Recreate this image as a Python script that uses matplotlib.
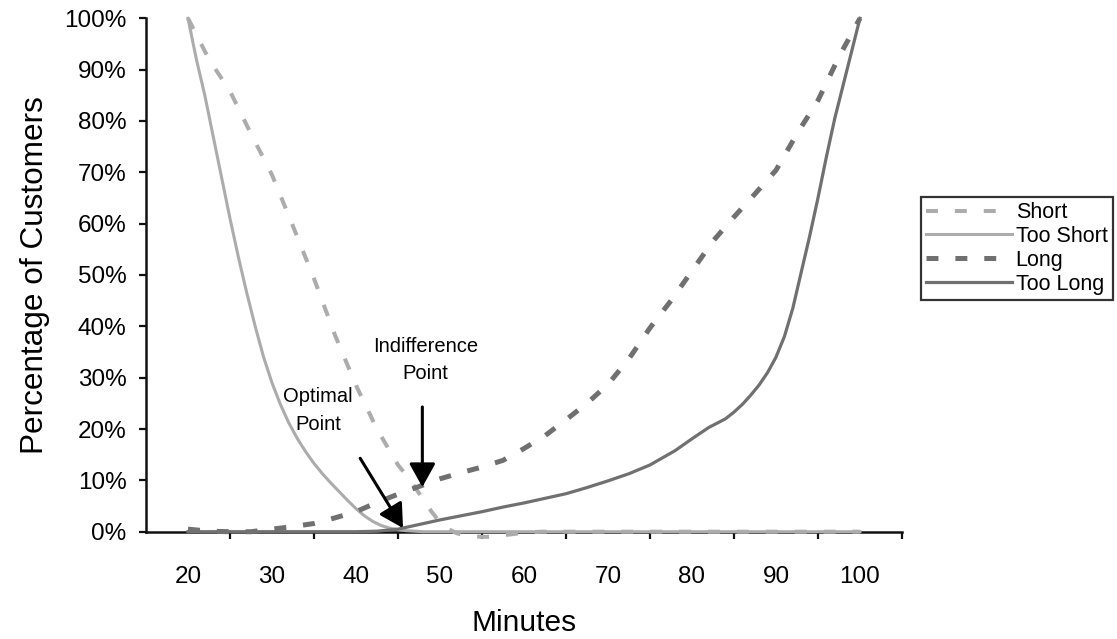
import matplotlib
matplotlib.use("Agg")
import matplotlib.pyplot as plt
from matplotlib.ticker import PercentFormatter, FixedLocator
from matplotlib.patches import ArrowStyle

plt.rcParams['font.family'] = ['Liberation Sans', 'DejaVu Sans']
plt.rcParams['lines.scale_dashes'] = False

# ---- data ----
minutes_short = [20, 22.5, 25, 27.5, 30, 32.5, 35, 37.5, 40, 42.5, 45, 46, 47, 48, 49,
                 50, 51, 52, 53, 54, 55, 56, 57, 58, 59, 60, 62, 65, 70, 75, 80, 85,
                 90, 95, 100]
short = [100, 92, 85.8, 77.5, 69.5, 59.5, 49.3, 38.3, 28.5, 20, 13, 11, 8.7, 6.3, 3.9,
         1.8, 0.5, -0.3, -0.7, -0.9, -1, -1, -0.8, -0.6, -0.4, -0.2, 0, 0, 0, 0, 0, 0,
         0, 0, 0]

minutes_too_short = [20, 21, 22, 23, 24, 25, 26, 27, 28, 29, 30, 31, 32, 33, 34, 35, 36,
                     37, 38, 39, 40, 41, 42, 43, 44, 45, 46, 47, 48, 50, 55, 60, 65, 70,
                     75, 80, 85, 90, 95, 100]
too_short = [100, 92, 85, 77, 69, 61, 53.5, 46.5, 40, 34, 29, 24.8, 21.2, 18.2, 15.6,
             13.3, 11.3, 9.5, 7.8, 6.1, 4.5, 3.1, 2.0, 1.2, 0.7, 0.4, 0.2, 0.1, 0, 0, 0,
             0, 0, 0, 0, 0, 0, 0, 0, 0]

minutes_long = [20, 22.5, 25, 27.5, 30, 32.5, 35, 37.5, 40, 42.5, 45, 47.5, 50, 52.5,
                55, 57.5, 60, 62.5, 65, 67.5, 70, 72.5, 75, 77.5, 80, 82.5, 85, 87.5,
                90, 92.5, 95, 97.5, 100]
long_ = [0.5, 0.1, 0, 0, 0.5, 1.0, 1.6, 2.7, 3.9, 5.7, 7.3, 8.8, 10.3, 11.5,
         12.6, 13.9, 16.2, 18.7, 21.8, 25, 28.7, 33.7, 39.7, 45, 50.8, 56.6, 61.3, 65.8,
         70.4, 77.5, 84, 92.5, 100]

minutes_too_long = [20, 25, 30, 35, 40, 42.5, 45, 47.5, 50, 52.5, 55, 57.5, 60, 62.5,
                    65, 67.5, 70, 72.5, 75, 78, 80, 82, 84, 85, 86, 87, 88, 89, 90, 91,
                    92, 93, 94, 95, 96, 97, 98, 99, 100]
too_long = [0, 0, 0, 0, 0, 0.1, 0.5, 1.4, 2.3, 3.1, 3.9, 4.8, 5.6, 6.5,
            7.4, 8.6, 9.9, 11.3, 13, 15.8, 18.1, 20.3, 22, 23.3, 24.8, 26.6, 28.6, 31,
            34, 38, 43.5, 50.5, 57.5, 65, 73, 80.5, 87, 93.5, 100]

x_ticklabels = [20, 30, 40, 50, 60, 70, 80, 90, 100]
y_ticks = [0, 10, 20, 30, 40, 50, 60, 70, 80, 90, 100]

LIGHT = '#acacac'
DARK = '#707070'
DASH = (0, (8.6, 12.2))

fig = plt.figure(figsize=(11.17, 6.39), dpi=100)
ax = fig.add_axes([0.1307, 0.1679, 0.8075 - 0.1307, 0.9714 - 0.1679])

ax.plot(minutes_short, short, color=LIGHT, lw=2.9, linestyle=DASH,
        dash_capstyle='butt', label='Short', clip_on=False, zorder=3)
ax.plot(minutes_too_short, too_short, color=LIGHT, lw=2.2, label='Too Short',
        clip_on=False, zorder=3)
ax.plot(minutes_long, long_, color=DARK, lw=3.6, linestyle=DASH,
        dash_capstyle='butt', label='Long', clip_on=False, zorder=3)
ax.plot(minutes_too_long, too_long, color=DARK, lw=2.3, label='Too Long',
        clip_on=False, zorder=3)

ax.set_xlim(15, 105)
ax.set_ylim(0, 100)

for s in ['top', 'right']:
    ax.spines[s].set_visible(False)
for s in ['left', 'bottom']:
    ax.spines[s].set_linewidth(1.8)
    ax.spines[s].set_color('#111111')
    ax.spines[s].set_zorder(2)

ax.set_yticks(y_ticks)
ax.yaxis.set_major_formatter(PercentFormatter(xmax=100, decimals=0))
ax.tick_params(axis='y', direction='out', length=5, width=1.6, color='#111111',
               labelsize=17.5, pad=9)

ax.set_xticks(x_ticklabels)
ax.set_xticklabels([str(v) for v in x_ticklabels])
ax.xaxis.set_minor_locator(FixedLocator([25, 35, 45, 55, 65, 75, 85, 95, 105]))
ax.tick_params(axis='x', which='major', length=0, labelsize=17.5, pad=25)
ax.tick_params(axis='x', which='minor', direction='out', length=5, width=1.6,
               color='#111111')

ax.set_xlabel('Minutes', fontsize=21.5, labelpad=15)
ax.set_ylabel('Percentage of Customers', fontsize=22.7, labelpad=10)

ax.text(48.3, 33.4, 'Indifference\nPoint', ha='center', va='center',
        fontsize=14.5, linespacing=1.55)
ax.text(35.5, 23.6, 'Optimal\nPoint', ha='center', va='center',
        fontsize=14.5, linespacing=1.55)

astyle = ArrowStyle('-|>', head_length=0.45, head_width=0.25)
ax.annotate('', xy=(47.9, 8.7), xytext=(47.9, 24.3),
            arrowprops=dict(arrowstyle=astyle, color='black', lw=2.2,
                            mutation_scale=32, shrinkA=0, shrinkB=0), zorder=5)
ax.annotate('', xy=(45.6, 0.7), xytext=(40.5, 14.3),
            arrowprops=dict(arrowstyle=astyle, color='black', lw=2.2,
                            mutation_scale=32, shrinkA=0, shrinkB=0), zorder=5)

leg = fig.legend(loc='upper left', bbox_to_anchor=(0.8245, 0.692),
                 bbox_transform=fig.transFigure, fontsize=15.5, frameon=True,
                 fancybox=False, edgecolor='black', handlelength=4.0,
                 handletextpad=0.15, labelspacing=0.13, borderpad=0.25,
                 borderaxespad=0)
leg.get_frame().set_linewidth(1.6)

fig.savefig('out.png', dpi=100)
